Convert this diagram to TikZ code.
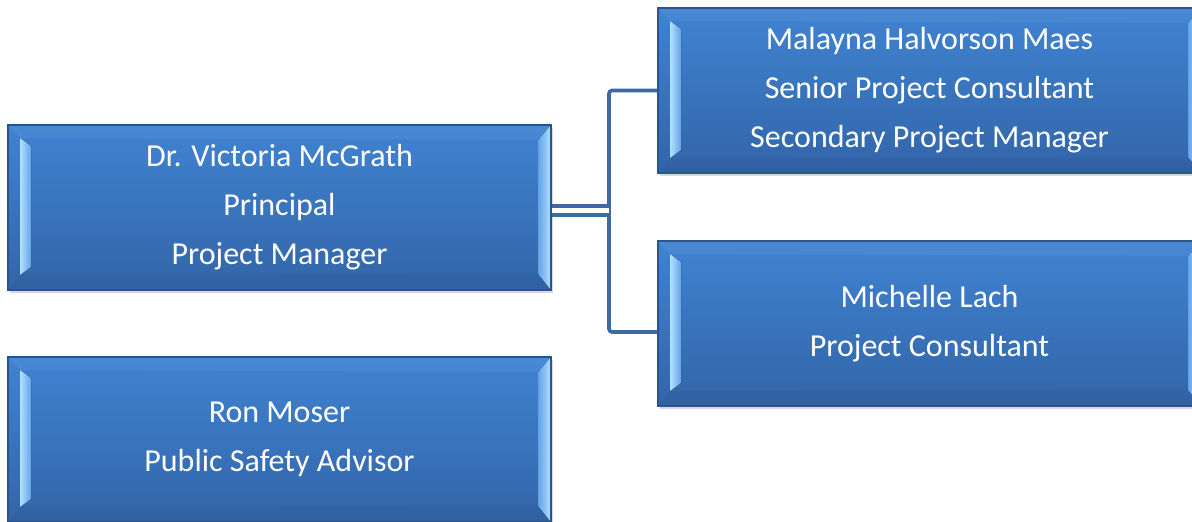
\documentclass[tikz,border=0pt]{standalone}
\usepackage{fontspec}
\setmainfont{Carlito}
\usetikzlibrary{calc,shadows}

\definecolor{boxtop}{RGB}{64,131,210}
\definecolor{boxbottom}{RGB}{50,101,168}
\definecolor{boxedge}{RGB}{44,84,138}
\definecolor{bevellight}{RGB}{176,226,255}
\definecolor{bevelmid}{RGB}{100,162,232}
\definecolor{linkblue}{RGB}{62,106,164}

\tikzset{
  staffbox/.style={draw=boxedge, line width=0.6pt, top color=boxtop, bottom color=boxbottom,
    minimum width=271.5pt, minimum height=82.5pt, inner sep=0pt,
    text=white, align=center, font=\fontsize{16pt}{24.5pt}\selectfont,
    drop shadow={shadow xshift=1.2pt, shadow yshift=-1.6pt, opacity=0.3},
    path picture={
      \coordinate (nw) at (path picture bounding box.north west);
      \coordinate (ne) at (path picture bounding box.north east);
      \coordinate (sw) at (path picture bounding box.south west);
      \coordinate (se) at (path picture bounding box.south east);
      \fill[boxbottom!80!black, opacity=0.15] (sw) -- (se) -- ([shift={(-6.5pt,8pt)}]se)
        -- ([shift={(6pt,7.5pt)}]sw) -- cycle;
      \fill[white, opacity=0.05] (nw) -- (ne) -- ([shift={(-6.5pt,-7.5pt)}]ne)
        -- ([shift={(6pt,-6.5pt)}]nw) -- cycle;
      \fill[left color=bevellight, right color=bevelmid] ([shift={(6pt,-6.5pt)}]nw)
        -- ([shift={(11.5pt,-10.5pt)}]nw) -- ([shift={(11.5pt,11.5pt)}]sw)
        -- ([shift={(6pt,7.5pt)}]sw) -- cycle;
      \fill[left color=bevelmid, right color=bevellight] (ne) -- ([shift={(-6.5pt,-7.5pt)}]ne)
        -- ([shift={(-6.5pt,8pt)}]se) -- (se) -- cycle;
    }},
  linkline/.style={draw=linkblue, line width=1.8pt, rounded corners=1.5pt}
}

\begin{document}
\begin{tikzpicture}[x=0.5pt, y=-0.5pt]
  \useasboundingbox (0,0) rectangle (1192,522);

  \node[staffbox] (lead) at (279.5,207.5) {Dr. Victoria McGrath\\Principal\\Project Manager};
  \node[staffbox] (advisor) at (279.5,439.5) {Ron Moser\\Public Safety Advisor};
  \node[staffbox] (senior) at (929.5,90.5) {Malayna Halvorson Maes\\Senior Project Consultant\\Secondary Project Manager};
  \node[staffbox] (consult) at (929.5,323.5) {Michelle Lach\\Project Consultant};

  \coordinate (bus) at (609,210.5);
  \draw[linkline] (senior.west) -| (bus) |- ($(consult.west)+(0,8.5)$);
  \draw[linkline, rounded corners=0pt, double=white, double distance=2.6pt] (bus -| lead.east) -- (bus);
\end{tikzpicture}
\end{document}
